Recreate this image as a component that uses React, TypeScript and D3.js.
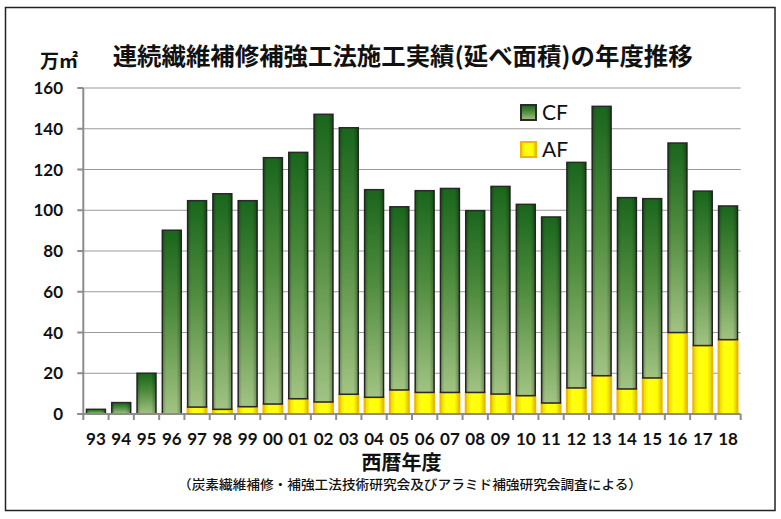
import React, { useEffect, useRef } from "react";
import * as d3 from "d3";

const years = [
  "93", "94", "95", "96", "97", "98", "99", "00", "01", "02", "03", "04", "05",
  "06", "07", "08", "09", "10", "11", "12", "13", "14", "15", "16", "17", "18",
];

// AF (bottom) and CF (top) areas, 万㎡
const afValues = [
  0, 0, 0, 0, 3.4, 2.3, 3.6, 4.9, 7.5, 5.9, 9.7, 8.2, 11.8,
  10.6, 10.6, 10.6, 9.8, 9.0, 5.4, 12.8, 18.8, 12.3, 17.7, 40.0, 33.6, 36.5,
];
const cfValues = [
  2.3, 5.6, 20.0, 90.2, 101.3, 105.8, 101.1, 120.9, 120.9, 141.2, 130.8, 101.9, 89.9,
  99.0, 100.1, 89.2, 101.9, 93.9, 91.3, 110.7, 132.2, 93.9, 88.0, 93.0, 75.8, 65.6,
];

const yTicks = [0, 20, 40, 60, 80, 100, 120, 140, 160];

const W = 781;
const H = 519;
const left = 83.3;
const right = 740.7;
const top = 88;
const bottom = 414;

const jp = "'Noto Sans CJK JP', 'Noto Sans', sans-serif";
const num = "Lato, 'Open Sans', sans-serif";

export default function App() {
  const ref = useRef<SVGSVGElement>(null);

  useEffect(() => {
    const svg = d3.select(ref.current);
    svg.selectAll("*").remove();

    const defs = svg.append("defs");
    const cfGrad = defs.append("linearGradient").attr("id", "cf").attr("x1", 0).attr("y1", 0).attr("x2", 0).attr("y2", 1);
    cfGrad.append("stop").attr("offset", "0").attr("stop-color", "#19661c");
    cfGrad.append("stop").attr("offset", "0.45").attr("stop-color", "#4f8c3e");
    cfGrad.append("stop").attr("offset", "1").attr("stop-color", "#a2c383");

    const afGrad = defs.append("linearGradient").attr("id", "af").attr("x1", 0).attr("y1", 0).attr("x2", 1).attr("y2", 0);
    afGrad.append("stop").attr("offset", "0").attr("stop-color", "#e6d400");
    afGrad.append("stop").attr("offset", "0.3").attr("stop-color", "#ffff10");
    afGrad.append("stop").attr("offset", "0.75").attr("stop-color", "#ffff00");
    afGrad.append("stop").attr("offset", "1").attr("stop-color", "#d9c000");

    const shade = defs.append("linearGradient").attr("id", "shade").attr("x1", 0).attr("y1", 0).attr("x2", 1).attr("y2", 0);
    shade.append("stop").attr("offset", "0").attr("stop-color", "#000").attr("stop-opacity", 0.25);
    shade.append("stop").attr("offset", "0.2").attr("stop-color", "#000").attr("stop-opacity", 0);
    shade.append("stop").attr("offset", "0.75").attr("stop-color", "#000").attr("stop-opacity", 0);
    shade.append("stop").attr("offset", "1").attr("stop-color", "#000").attr("stop-opacity", 0.3);

    svg.append("rect").attr("width", W).attr("height", H).attr("fill", "#fff");
    svg.append("rect")
      .attr("x", 5.5).attr("y", 7.5).attr("width", 769.5).attr("height", 503)
      .attr("fill", "none").attr("stroke", "#222").attr("stroke-width", 1.5);

    const x = d3.scaleBand().domain(years).range([left, right]).paddingInner(0.25).paddingOuter(0.125);
    const y = d3.scaleLinear().domain([0, 160]).range([bottom, top]);
    const step = x.step();

    // gridlines
    svg.append("g").selectAll("line").data(yTicks.slice(1)).join("line")
      .attr("x1", left).attr("x2", right)
      .attr("y1", (d) => y(d)).attr("y2", (d) => y(d))
      .attr("stroke", "#9a9a9a").attr("stroke-width", 1);

    // y axis
    const yAxis = svg.append("g");
    yAxis.append("line").attr("x1", left).attr("x2", left).attr("y1", top).attr("y2", bottom)
      .attr("stroke", "#8c8c8c").attr("stroke-width", 2);
    yAxis.selectAll("line.t").data(yTicks).join("line").attr("class", "t")
      .attr("x1", left - 6).attr("x2", left)
      .attr("y1", (d) => y(d)).attr("y2", (d) => y(d))
      .attr("stroke", "#8c8c8c").attr("stroke-width", 2);
    yAxis.selectAll("text").data(yTicks).join("text")
      .attr("x", 63).attr("y", (d) => y(d) + 6)
      .attr("text-anchor", "end")
      .attr("font-family", num).attr("font-weight", 700).attr("font-size", 17).attr("fill", "#111")
      .text((d) => d);

    // bars
    const bars = svg.append("g");
    years.forEach((yr, i) => {
      const bx = x(yr)!;
      const bw = x.bandwidth();
      const af = afValues[i];
      const total = af + cfValues[i];
      if (af > 0) {
        bars.append("rect")
          .attr("x", bx).attr("y", y(af)).attr("width", bw).attr("height", y(0) - y(af))
          .attr("fill", "url(#af)").attr("stroke", "#f2b500").attr("stroke-width", 2);
      }
      bars.append("rect")
        .attr("x", bx).attr("y", y(total)).attr("width", bw).attr("height", y(af) - y(total))
        .attr("fill", "url(#cf)").attr("stroke", "#2a2a2a").attr("stroke-width", 1.5);
      bars.append("rect")
        .attr("x", bx).attr("y", y(total)).attr("width", bw).attr("height", y(af) - y(total))
        .attr("fill", "url(#shade)");
    });

    // x axis
    const xAxis = svg.append("g");
    xAxis.append("line").attr("x1", left - 6).attr("x2", right).attr("y1", bottom).attr("y2", bottom)
      .attr("stroke", "#8c8c8c").attr("stroke-width", 2);
    xAxis.selectAll("line.t").data(d3.range(years.length + 1)).join("line").attr("class", "t")
      .attr("x1", (i) => left + i * step).attr("x2", (i) => left + i * step)
      .attr("y1", bottom).attr("y2", bottom + 6)
      .attr("stroke", "#8c8c8c").attr("stroke-width", 2);
    xAxis.selectAll("text").data(years).join("text")
      .attr("x", (d) => x(d)! + x.bandwidth() / 2).attr("y", 445)
      .attr("text-anchor", "middle")
      .attr("font-family", num).attr("font-weight", 700).attr("font-size", 17).attr("fill", "#111")
      .text((d) => d);

    // legend
    const legend = [
      { label: "CF", fill: "url(#cf)", stroke: "#2a2a2a", y: 105 },
      { label: "AF", fill: "url(#af)", stroke: "#f2b500", y: 142 },
    ];
    const lg = svg.append("g");
    legend.forEach((l) => {
      lg.append("rect").attr("x", 521).attr("y", l.y).attr("width", 15).attr("height", 15)
        .attr("fill", l.fill).attr("stroke", l.stroke).attr("stroke-width", 2);
      lg.append("text").attr("x", 542).attr("y", l.y + 15)
        .attr("font-family", num).attr("font-size", 21).attr("fill", "#111").text(l.label);
    });

    // titles
    svg.append("text").attr("x", 40).attr("y", 68)
      .attr("font-family", jp).attr("font-weight", 700).attr("font-size", 19).attr("fill", "#111")
      .text("万㎡");
    svg.append("text").attr("x", 112.7).attr("y", 65)
      .attr("textLength", 580).attr("lengthAdjust", "spacingAndGlyphs")
      .attr("font-family", jp).attr("font-weight", 700).attr("font-size", 24).attr("fill", "#111")
      .text("連続繊維補修補強工法施工実績(延べ面積)の年度推移");
    svg.append("text").attr("x", 401.5).attr("y", 470)
      .attr("text-anchor", "middle")
      .attr("font-family", jp).attr("font-weight", 700).attr("font-size", 20).attr("fill", "#111")
      .text("西暦年度");
    svg.append("text").attr("x", 178).attr("y", 488.5)
      .attr("textLength", 464).attr("lengthAdjust", "spacingAndGlyphs")
      .attr("font-family", jp).attr("font-weight", 500).attr("font-size", 13).attr("fill", "#111")
      .text("（炭素繊維補修・補強工法技術研究会及びアラミド補強研究会調査による）");
  }, []);

  return (
    <svg
      ref={ref}
      width={W}
      height={H}
      style={{ position: "absolute", left: 0, top: 0, display: "block" }}
    />
  );
}
